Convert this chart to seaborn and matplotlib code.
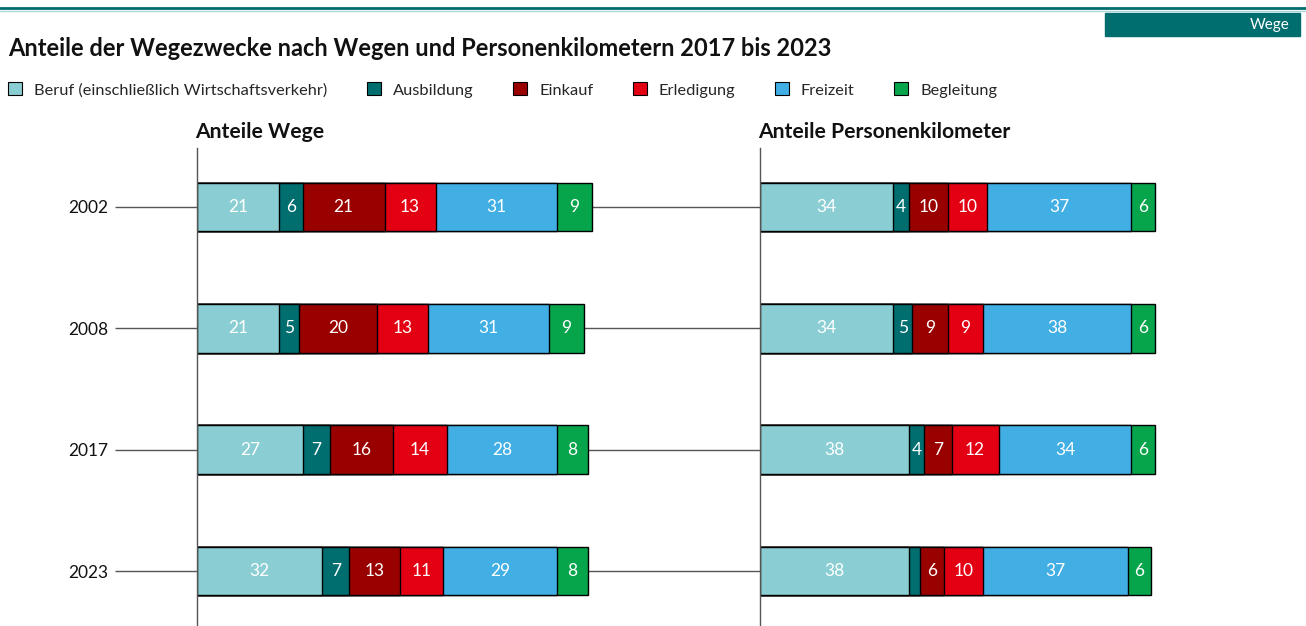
import numpy as np
import pandas as pd
import matplotlib
matplotlib.use("Agg")
import matplotlib.pyplot as plt
import seaborn as sns
from matplotlib.patches import Patch, Rectangle
from matplotlib.lines import Line2D

sns.set_theme(style="white")
plt.rcParams["font.family"] = ["Lato", "DejaVu Sans"]

# Daten
years = ["2002", "2008", "2017", "2023"]
purposes = ["Beruf (einschließlich Wirtschaftsverkehr)", "Ausbildung", "Einkauf",
            "Erledigung", "Freizeit", "Begleitung"]
colors = ["#8ACED3", "#006D6F", "#990000", "#E30013", "#41AEE4", "#06A54B"]

wege = {
    "Beruf (einschließlich Wirtschaftsverkehr)": [21, 21, 27, 32],
    "Ausbildung": [6, 5, 7, 7],
    "Einkauf": [21, 20, 16, 13],
    "Erledigung": [13, 13, 14, 11],
    "Freizeit": [31, 31, 28, 29],
    "Begleitung": [9, 9, 8, 8],
}
pkm = {
    "Beruf (einschließlich Wirtschaftsverkehr)": [34, 34, 38, 38],
    "Ausbildung": [4, 5, 4, 3],
    "Einkauf": [10, 9, 7, 6],
    "Erledigung": [10, 9, 12, 10],
    "Freizeit": [37, 38, 34, 37],
    "Begleitung": [6, 6, 6, 6],
}

W, H = 1306, 626
PX_PER_UNIT = 3.91
line_col = "#555555"

fig = plt.figure(figsize=(W / 100, H / 100), dpi=100)

# Kopfzeile
fig.add_artist(Line2D([0, 1], [1 - 8 / H, 1 - 8 / H], color="#006D6F", lw=2))
fig.add_artist(Line2D([0, 1], [1 - 10.5 / H, 1 - 10.5 / H], color="#A9D6D8", lw=1))
fig.add_artist(Rectangle((1105 / W, 1 - 36 / H), 195 / W, 23 / H,
                         transform=fig.transFigure, color="#006D6F"))
fig.text(1290 / W, 1 - 25 / H, "Wege", color="white", fontsize=11,
         ha="right", va="center")
fig.text(8 / W, 1 - 48 / H, "Anteile der Wegezwecke nach Wegen und Personenkilometern 2017 bis 2023",
         fontsize=17, fontweight="bold", ha="left", va="center", color="#111111")

handles = [Patch(facecolor=c, edgecolor="black", lw=0.8) for c in colors]
fig.legend(handles, purposes, loc="center left", bbox_to_anchor=(3 / W, 1 - 90 / H),
           ncol=6, frameon=False, fontsize=11.8, handlelength=0.85, handleheight=0.85,
           handletextpad=0.75, columnspacing=2.4, borderaxespad=0, borderpad=0.3)


def draw_panel(ax, data, right_px):
    df = pd.DataFrame(data, index=years)
    cum = df.cumsum(axis=1)
    # gestapelte Balken: kumulierte Summen von hinten nach vorne zeichnen
    for col, c in reversed(list(zip(purposes, colors))):
        sns.barplot(x=cum[col].values, y=years, orient="h", color=c, saturation=1,
                    edgecolor="black", linewidth=1, width=0.4, ax=ax)
    for i, yr in enumerate(years):
        left = 0
        for col in purposes:
            v = df.loc[yr, col]
            if v >= 4:
                ax.text(left + v / 2, i, str(v), color="white", fontsize=12.5,
                        ha="center", va="center")
            left += v
    ax.set_xlim(0, right_px / PX_PER_UNIT)
    ax.set_ylim(3.453, -0.486)
    ax.set_xticks([])
    ax.set_xlabel("")
    ax.set_ylabel("")
    for s in ["top", "right", "bottom"]:
        ax.spines[s].set_visible(False)
    ax.spines["left"].set_color(line_col)
    ax.spines["left"].set_linewidth(1)
    return df.sum(axis=1).values


ax1 = fig.add_axes([197 / W, 0, (760 - 197) / W, (626 - 148) / H])
ax2 = fig.add_axes([760 / W, 0, (1306 - 760) / W, (626 - 148) / H])

tot1 = draw_panel(ax1, wege, 760 - 197)
tot2 = draw_panel(ax2, pkm, 1306 - 760)

# Verbindungslinien zwischen den Panels
for i, t in enumerate(tot1):
    ax1.hlines(i, t, (760 - 197) / PX_PER_UNIT, color=line_col, lw=1, zorder=0, clip_on=False)

ax1.tick_params(axis="y", left=True, length=59, width=1, color=line_col, pad=5,
                labelsize=12.5, labelcolor="#111111")
ax2.tick_params(axis="y", left=False, labelleft=False)

fig.text(195 / W, 1 - 132 / H, "Anteile Wege", fontsize=15.2, fontweight="bold",
         ha="left", va="center", color="#111111")
fig.text(758 / W, 1 - 132 / H, "Anteile Personenkilometer", fontsize=15.2,
         fontweight="bold", ha="left", va="center", color="#111111")

fig.savefig("out.png", dpi=100)
